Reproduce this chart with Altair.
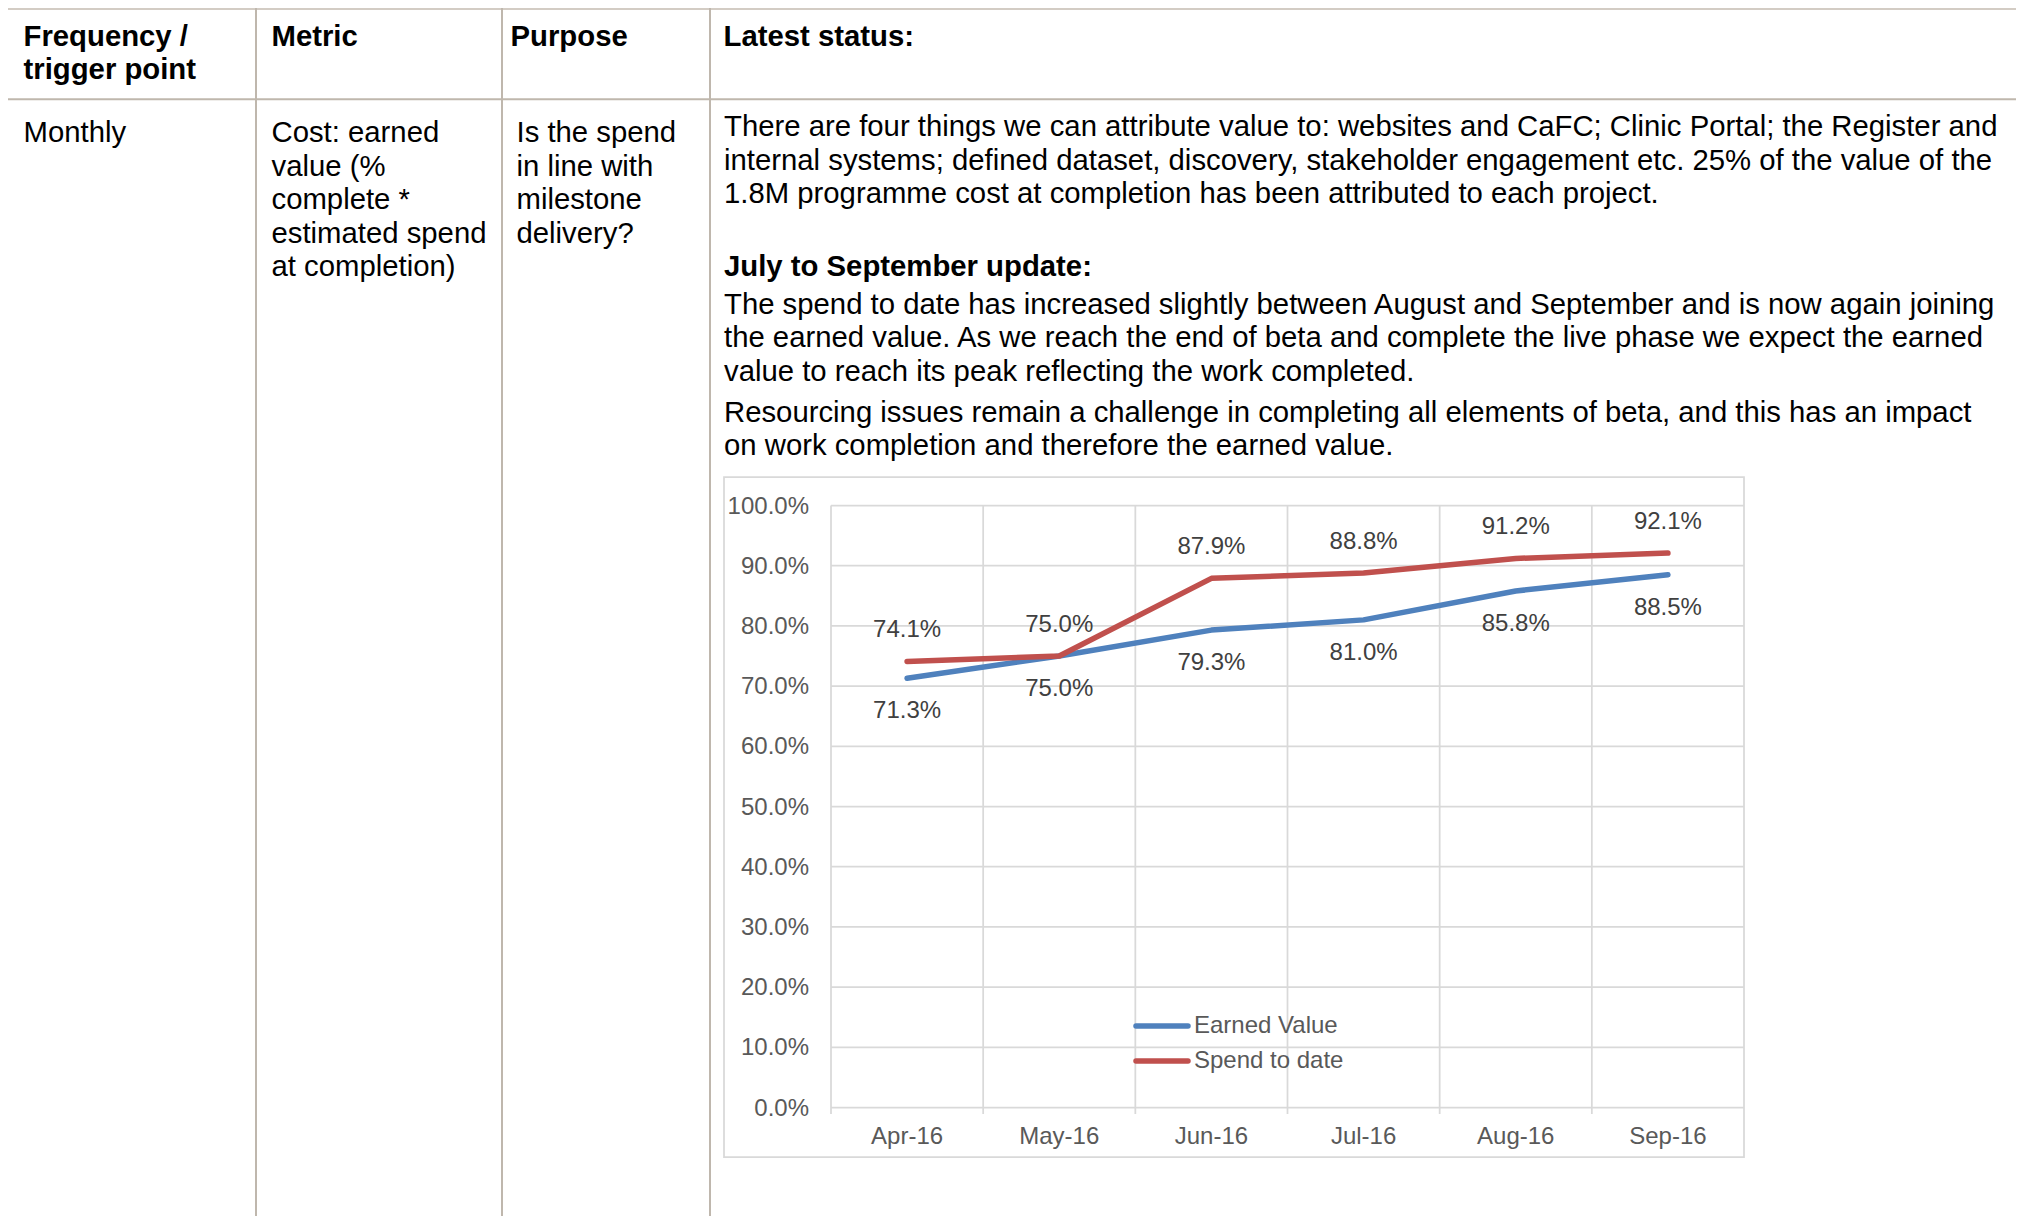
import altair as alt
import pandas as pd

# ---------------- data ----------------
months = ["Apr-16", "May-16", "Jun-16", "Jul-16", "Aug-16", "Sep-16"]
earned_value = [0.713, 0.750, 0.793, 0.810, 0.858, 0.885]
spend_to_date = [0.741, 0.750, 0.879, 0.888, 0.912, 0.921]
series_names = ["Earned Value", "Spend to date"]
series_colors = ["#4F81BD", "#C0504D"]
y_ticks = [0.0, 0.1, 0.2, 0.3, 0.4, 0.5, 0.6, 0.7, 0.8, 0.9, 1.0]

header_frequency = ["Frequency /", "trigger point"]
header_metric = ["Metric"]
header_purpose = ["Purpose"]
header_status = ["Latest status:"]
cell_frequency = ["Monthly"]
cell_metric = ["Cost: earned", "value (%", "complete *", "estimated spend", "at completion)"]
cell_purpose = ["Is the spend", "in line with", "milestone", "delivery?"]
status_intro = [
    "There are four things we can attribute value to: websites and CaFC; Clinic Portal; the Register and",
    "internal systems; defined dataset, discovery, stakeholder engagement etc. 25% of the value of the",
    "1.8M programme cost at completion has been attributed to each project.",
]
status_heading = ["July to September update:"]
status_update = [
    "The spend to date has increased slightly between August and September and is now again joining",
    "the earned value. As we reach the end of beta and complete the live phase we expect the earned",
    "value to reach its peak reflecting the work completed.",
]
status_resourcing = [
    "Resourcing issues remain a challenge in completing all elements of beta, and this has an impact",
    "on work completion and therefore the earned value.",
]

# ---------------- tables built from the arrays ----------------
df = pd.DataFrame({
    "month": months + months,
    "idx": list(range(len(months))) + list(range(len(months))),
    "series": [series_names[0]] * len(months) + [series_names[1]] * len(months),
    "value": earned_value + spend_to_date,
})
months_df = pd.DataFrame({"month": months})
ticks_df = pd.DataFrame({"tick": y_ticks})
one_row = pd.DataFrame({"k": [0]})

FONT = "Liberation Sans"
LINE_H = 33.6
BODY = 29.3
SMALL = 24
TABLE_LINE = "#bfb7ad"
GRID = "#d9d9d9"

x_scale = alt.Scale(type="band", domain=months, range=[823, 1736], paddingInner=0, paddingOuter=0)
y_scale = alt.Scale(type="linear", domain=[0, 1], range=[1099.5, 497.5], nice=False)
color_scale = alt.Scale(domain=series_names, range=series_colors)


def text_block(lines, x, y, bold=False):
    return alt.Chart(one_row).mark_text(
        align="left", baseline="alphabetic", font=FONT, fontSize=BODY,
        fontWeight="bold" if bold else "normal", lineHeight=LINE_H, color="#000000",
    ).encode(x=alt.value(x), y=alt.value(y), text=alt.value(lines))


def hline(y, x1, x2, color, w):
    return alt.Chart(one_row).mark_rule(color=color, strokeWidth=w).encode(
        x=alt.value(x1), x2=alt.value(x2), y=alt.value(y))


def vline(x, y1, y2, color, w):
    return alt.Chart(one_row).mark_rule(color=color, strokeWidth=w).encode(
        x=alt.value(x), y=alt.value(y1), y2=alt.value(y2))


layers = []
# table frame
layers.append(hline(1, 0, 2008, "#d3ccc4", 2))
layers.append(hline(91.3, 0, 2010, TABLE_LINE, 2))
for cx in [248, 494, 702]:
    layers.append(vline(cx, 0, 1208, TABLE_LINE, 2))

# table texts
layers += [
    text_block(header_frequency, 15.5, 37.7, bold=True),
    text_block(header_metric, 263.5, 37.7, bold=True),
    text_block(header_purpose, 502.5, 37.7, bold=True),
    text_block(header_status, 715.5, 37.7, bold=True),
    text_block(cell_frequency, 15.5, 134),
    text_block(cell_metric, 263.5, 134),
    text_block(cell_purpose, 508.5, 134),
    text_block(status_intro, 716, 128),
    text_block(status_heading, 716, 268, bold=True),
    text_block(status_update, 716, 305.5),
    text_block(status_resourcing, 716, 413.7),
]

# chart box
layers.append(
    alt.Chart(one_row).mark_rect(fill="#ffffff", stroke=GRID, strokeWidth=1.75).encode(
        x=alt.value(716), x2=alt.value(1736), y=alt.value(469), y2=alt.value(1149))
)

# horizontal gridlines
layers.append(
    alt.Chart(ticks_df).mark_rule(color=GRID, strokeWidth=1.75).encode(
        y=alt.Y("tick:Q", scale=y_scale, axis=None),
        x=alt.value(823), x2=alt.value(1736))
)
# vertical gridlines / ticks
layers.append(
    alt.Chart(months_df).mark_rule(color=GRID, strokeWidth=1.75).encode(
        x=alt.X("month:N", scale=x_scale, axis=None, bandPosition=0),
        y=alt.value(497.5), y2=alt.value(1106))
)
# y labels
layers.append(
    alt.Chart(ticks_df).mark_text(align="right", baseline="middle", font=FONT, fontSize=SMALL,
                                  color="#595959", dy=1).encode(
        y=alt.Y("tick:Q", scale=y_scale, axis=None),
        x=alt.value(801),
        text=alt.Text("tick:Q", format=".1%"))
)
# x labels
layers.append(
    alt.Chart(months_df).mark_text(align="center", baseline="middle", font=FONT, fontSize=SMALL,
                                   color="#595959").encode(
        x=alt.X("month:N", scale=x_scale, axis=None, bandPosition=0.5),
        y=alt.value(1129),
        text="month:N")
)

# legend
legend_y = [1018, 1053]
for name, col, ly in zip(series_names, series_colors, legend_y):
    layers.append(
        alt.Chart(one_row).mark_rule(color=col, strokeWidth=5.5, strokeCap="round").encode(
            x=alt.value(1128), x2=alt.value(1180), y=alt.value(ly))
    )
    layers.append(
        alt.Chart(one_row).mark_text(align="left", baseline="middle", font=FONT, fontSize=SMALL,
                                     color="#595959").encode(
            x=alt.value(1186), y=alt.value(ly), text=alt.value(name))
    )

# series lines
layers.append(
    alt.Chart(df).mark_line(strokeWidth=5.5, strokeCap="round", strokeJoin="round").encode(
        x=alt.X("month:N", scale=x_scale, axis=None, bandPosition=0.5),
        y=alt.Y("value:Q", scale=y_scale, axis=None),
        color=alt.Color("series:N", scale=color_scale, legend=None),
        order=alt.Order("idx:Q"))
)
# data labels
label_offsets = {"Earned Value": 33, "Spend to date": -31}
for name in series_names:
    layers.append(
        alt.Chart(df).transform_filter(alt.datum.series == name).mark_text(
            align="center", baseline="middle", font=FONT, fontSize=SMALL, color="#404040",
            dy=label_offsets[name]).encode(
            x=alt.X("month:N", scale=x_scale, axis=None, bandPosition=0.5),
            y=alt.Y("value:Q", scale=y_scale, axis=None),
            text=alt.Text("value:Q", format=".1%"))
    )

chart = alt.layer(*layers).properties(
    width=2008, height=1208,
    autosize=alt.AutoSizeParams(type="none"),
    padding=0,
    background="#ffffff",
).configure_view(strokeWidth=0)

chart.save("out.html", embed_options={"renderer": "svg", "actions": False})
